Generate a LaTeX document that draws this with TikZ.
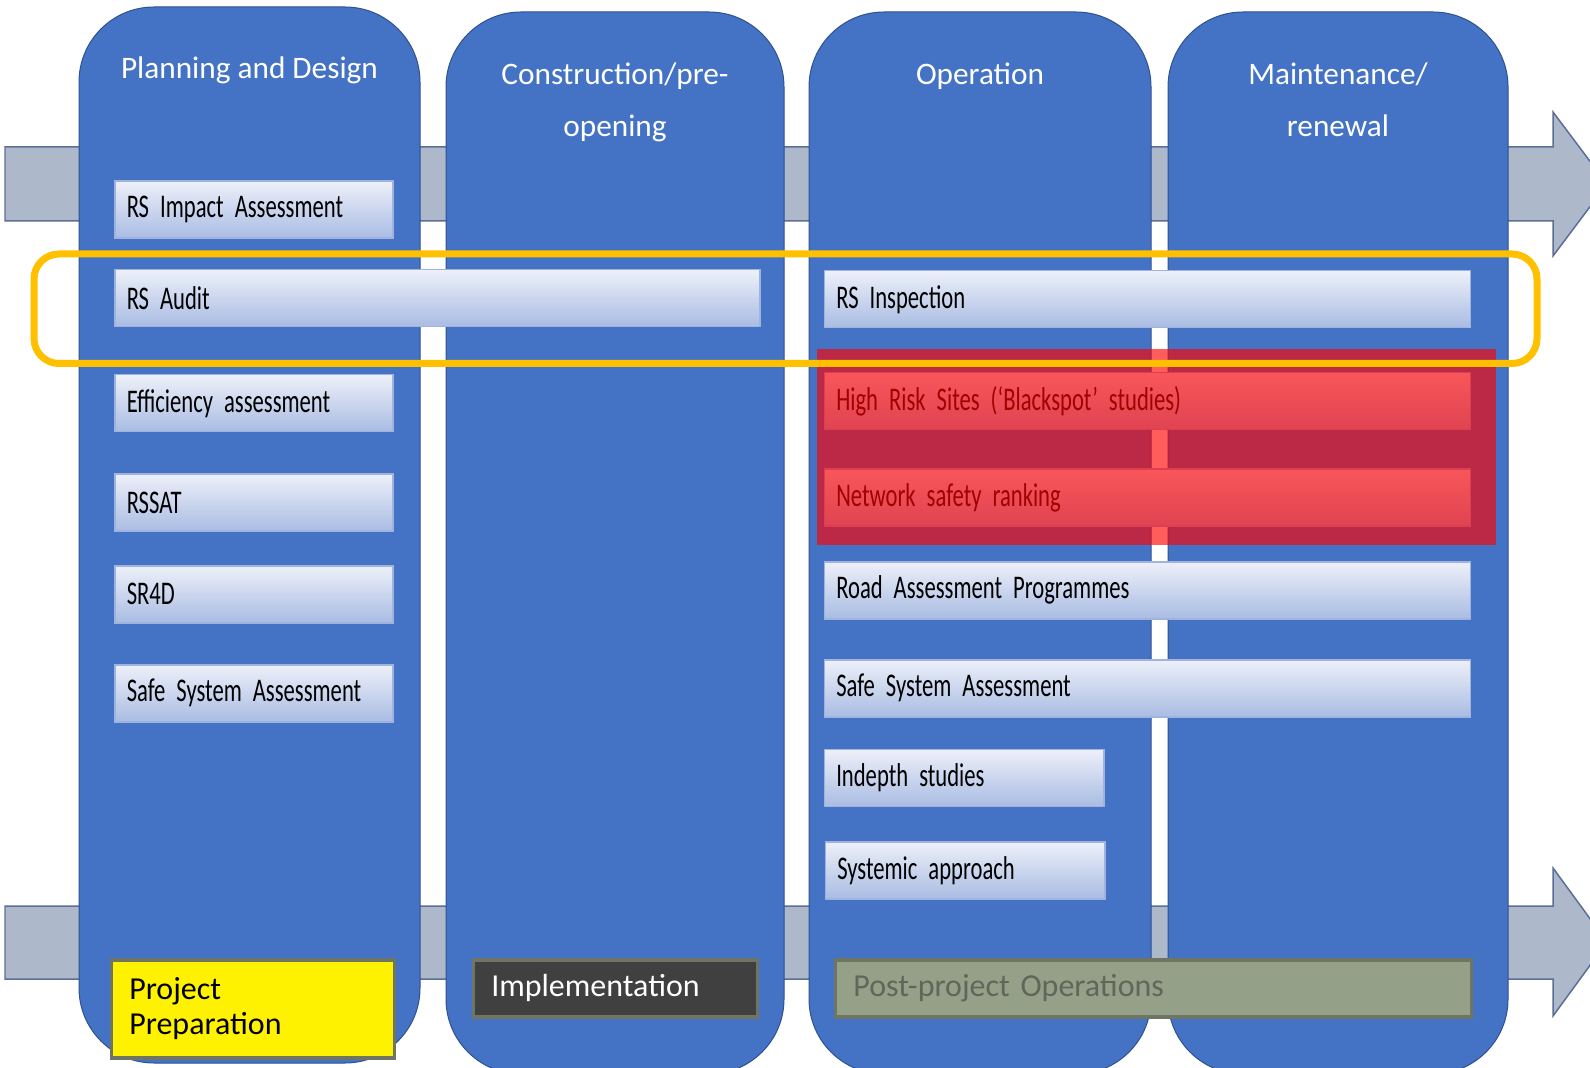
\documentclass[tikz,border=0pt]{standalone}
\usepackage{fontspec}
\setmainfont{Carlito}
\newfontfamily\narrowfont[FakeStretch=0.685]{Carlito}

\definecolor{colblue}{HTML}{4472C4}
\definecolor{colline}{HTML}{2F528F}
\definecolor{bandfill}{HTML}{ADB9CA}
\definecolor{bandline}{HTML}{5B6E96}
\definecolor{boxtop}{HTML}{EDF0F9}
\definecolor{boxbot}{HTML}{A9BCE3}
\definecolor{boxline}{HTML}{9FB3DE}
\definecolor{frame}{HTML}{FFC000}
\definecolor{stageline}{HTML}{6E7563}
\definecolor{postfill}{HTML}{95A089}
\definecolor{posttext}{HTML}{60665A}

\begin{document}
\begin{tikzpicture}[x=0.1mm, y=-0.1mm,
  phase/.style={fill=colblue, draw=colline, line width=0.1mm, rounded corners=7.5mm},
  band/.style={fill=bandfill, draw=bandline, line width=0.15mm},
  head/.style={text=white, align=center, anchor=base, font=\fontsize{8.9}{14.8}\selectfont},
  item/.style={anchor=north west, top color=boxtop, bottom color=boxbot, draw=boxline,
    line width=0.15mm, inner xsep=1.2mm, inner ysep=0pt, minimum height=5.7mm,
    align=left, font=\narrowfont\fontsize{9.4}{11}\selectfont},
  stage/.style={anchor=north west, draw=stageline, line width=0.35mm, inner xsep=1.8mm,
    inner ysep=0pt, minimum height=5.7mm, align=left, font=\fontsize{9.1}{10}\selectfont}]
  \useasboundingbox (0,0) rectangle (1590,1068);
  \clip (0,0) rectangle (1590,1068);

  % Timeline arrows
  \draw[band] (5,147) -- (1553,147) -- (1553,112) -- (1607,184) -- (1553,256) -- (1553,221) -- (5,221) -- cycle;
  \draw[band] (5,906) -- (1553,906) -- (1553,868) -- (1607,942) -- (1553,1016) -- (1553,979) -- (5,979) -- cycle;

  % Phase columns
  \draw[phase] (79,7) rectangle (420,1063);
  \draw[phase] (446,12) rectangle (784,1074);
  \draw[phase] (809,12) rectangle (1151,1074);
  \draw[phase] (1168,12) rectangle (1508,1074);

  \node[head] (planning) at (249.5,79) {Planning and Design};
  \node[head] (construction) at (615,137) {Construction/pre-\\opening};
  \node[head] (operation) at (980,85) {Operation};
  \node[head] (maintenance) at (1338,137) {Maintenance/\\renewal};

  % Tools before opening
  \node[item, text width=25.4mm] (impact) at (114,180.5) {RS Impact Assessment};
  \node[item, text width=62.1mm] (audit) at (114,269) {RS Audit};
  \node[item, text width=25.4mm] (efficiency) at (114,374) {Efficiency assessment};
  \node[item, text width=25.4mm] (rssat) at (114,473.5) {RSSAT};
  \node[item, text width=25.4mm] (srfourd) at (114,565) {SR4D};
  \node[item, text width=25.4mm] (safeleft) at (114,664) {Safe System Assessment};

  % Tools after opening
  \node[item, text width=62.2mm] (inspection) at (823.5,270) {RS Inspection};
  \node[item, text width=62.2mm] (blackspot) at (823.5,372) {High Risk Sites (‘Blackspot’ studies)};
  \node[item, text width=62.2mm] (ranking) at (823.5,468.5) {Network safety ranking};
  \node[item, text width=62.2mm] (rap) at (823.5,561) {Road Assessment Programmes};
  \node[item, text width=62.2mm] (saferight) at (823.5,659) {Safe System Assessment};
  \node[item, text width=25.55mm] (indepth) at (823.5,748.5) {Indepth studies};
  \node[item, text width=25.55mm] (systemic) at (824.5,841) {Systemic approach};

  % Project stages
  \node[stage, fill=yellow, text width=24.7mm, minimum height=9.8mm] (prep) at (109.5,958) {Project\\Preparation};
  \node[stage, fill=black!75, text=white, text width=24.8mm] (impl) at (471.5,958) {Implementation};
  \node[stage, fill=postfill, text=posttext, text width=60mm] (postops) at (833.6,958) {Post-project Operations};

  % Highlights
  \fill[red, opacity=0.64] (817,349) rectangle (1496,545);
  \draw[frame, line width=0.7mm, rounded corners=2.5mm] (34,254) rectangle (1537,363.5);
\end{tikzpicture}
\end{document}
